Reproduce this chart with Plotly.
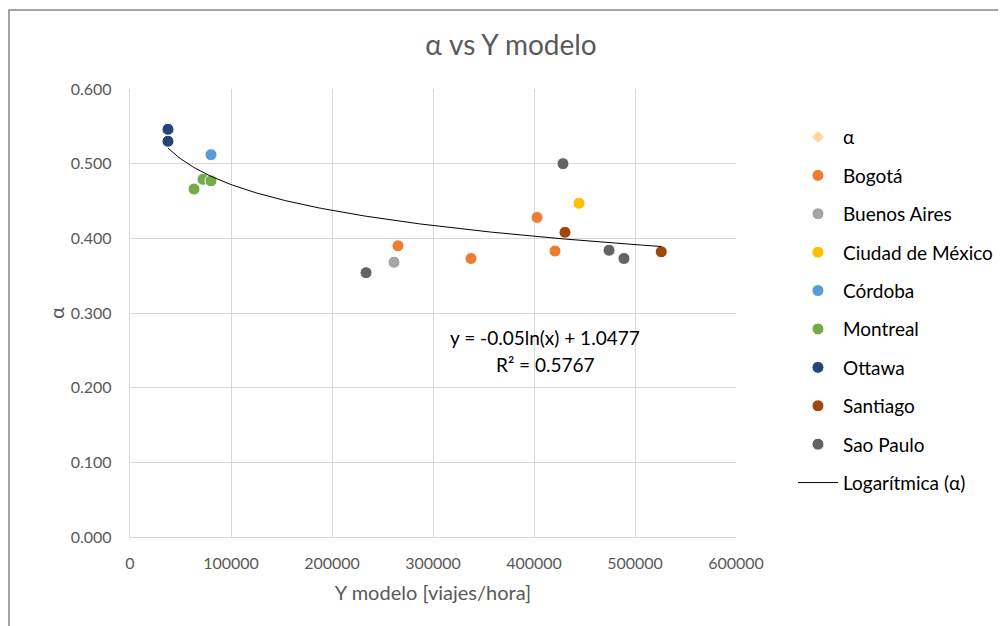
import plotly.graph_objects as go
import numpy as np

# puntos (Y modelo [viajes/hora], alpha)
ciudades = ["Bogotá", "Buenos Aires", "Ciudad de México", "Córdoba", "Montreal",
            "Ottawa", "Santiago", "Sao Paulo"]
colores = ["#ED7D31", "#A5A5A5", "#FFC000", "#5B9BD5", "#70AD47",
           "#264478", "#9E480E", "#636363"]

y_bogota = [265300, 337600, 403000, 420800]
a_bogota = [0.390, 0.373, 0.428, 0.383]
y_baires = [261400]
a_baires = [0.368]
y_cdmx = [444600]
a_cdmx = [0.447]
y_cordoba = [80200]
a_cordoba = [0.512]
y_montreal = [63400, 72300, 80200]
a_montreal = [0.466, 0.479, 0.477]
y_ottawa = [37600, 37600]
a_ottawa = [0.546, 0.530]
y_santiago = [430700, 526000]
a_santiago = [0.408, 0.382]
y_saopaulo = [233700, 428700, 474300, 489100]
a_saopaulo = [0.354, 0.500, 0.384, 0.373]

xs = [y_bogota, y_baires, y_cdmx, y_cordoba, y_montreal, y_ottawa, y_santiago, y_saopaulo]
ys = [a_bogota, a_baires, a_cdmx, a_cordoba, a_montreal, a_ottawa, a_santiago, a_saopaulo]

# tendencia logarítmica de Excel
coef_a = -0.05
coef_b = 1.0477
x_tend = np.linspace(37600, 526000, 200)
y_tend = coef_a * np.log(x_tend) + coef_b

fuente = "Lato, Carlito, sans-serif"
gris = "#595959"

fig = go.Figure()

fig.add_trace(go.Scatter(x=[None], y=[None], mode="markers", name="α",
                         marker=dict(symbol="diamond", size=9, color="#FFD699"),
                         legendgroup="g0"))

for i in range(len(ciudades)):
    fig.add_trace(go.Scatter(x=xs[i], y=ys[i], mode="markers", name=ciudades[i],
                             marker=dict(size=12, color=colores[i],
                                         line=dict(width=1, color="white")),
                             legendgroup="g" + str(i + 1)))

fig.add_trace(go.Scatter(x=x_tend, y=y_tend, mode="lines", name="Logarítmica (α)",
                         line=dict(color="black", width=1), legendgroup="g9"))

fig.add_annotation(x=410900, y=0.267, showarrow=False, text="y = -0.05ln(x) + 1.0477",
                   font=dict(size=19, color="black"))
fig.add_annotation(x=410900, y=0.231, showarrow=False, text="R² = 0.5767",
                   font=dict(size=19, color="black"))

fig.update_layout(
    width=998, height=618,
    margin=dict(l=122, r=270, t=81, b=89, autoexpand=False),
    paper_bgcolor="white", plot_bgcolor="white",
    font=dict(family=fuente, color=gris, size=16),
    title=dict(text="α vs Y modelo", x=0.504, xanchor="center", y=0.94, yanchor="middle",
               font=dict(size=28, color=gris)),
    legend=dict(x=1.094, y=0.935, xanchor="left", yanchor="top",
                font=dict(size=19, color="black"), tracegroupgap=10.7,
                itemwidth=40, maxheight=600),
    showlegend=True,
)

fig.update_xaxes(range=[0, 600000], dtick=100000, tickformat="d",
                 showgrid=True, gridcolor="#D9D9D9", gridwidth=1.3,
                 showline=True, linecolor="#D9D9D9", linewidth=1.3, zeroline=False,
                 ticks="", tickfont=dict(size=16, color=gris), ticklabelstandoff=12,
                 title=dict(text="Y modelo [viajes/hora]", font=dict(size=20, color=gris),
                            standoff=14))
fig.update_yaxes(range=[0, 0.6], dtick=0.1, tickformat=".3f",
                 showgrid=True, gridcolor="#D9D9D9", gridwidth=1.3,
                 showline=True, linecolor="#D9D9D9", linewidth=1.3, zeroline=False,
                 ticks="", tickfont=dict(size=16, color=gris), ticklabelstandoff=14,
                 title=dict(text="α", font=dict(size=20, color=gris), standoff=0))

# marco del gráfico
fig.add_shape(type="rect", xref="paper", yref="paper",
              x0=-0.1997, x1=1.5, y0=-0.3, y1=1.1763,
              line=dict(color="#888888", width=1.5), layer="below")

fig.write_html("out.html")
